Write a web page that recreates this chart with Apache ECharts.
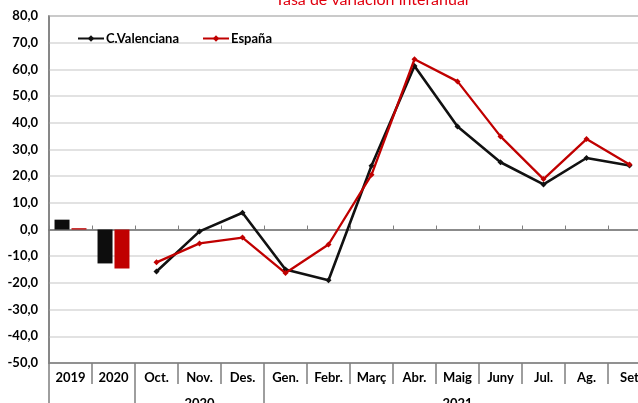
<!DOCTYPE html>
<html><head><meta charset="utf-8">
<script src="https://cdn.jsdelivr.net/npm/echarts@6/dist/echarts.min.js"></script>
<style>html,body{margin:0;padding:0;background:#fff}#c{width:638px;height:403px}</style>
</head><body><div id="c"></div>
<script>
var categories = ['2019','2020','Oct.','Nov.','Des.','Gen.','Febr.','Març','Abr.','Maig','Juny','Jul.','Ag.','Set'];
var groupLabels = ['','','','2020','','','','','','2021','','','',''];
var cvBars = [3.7, -12.7, null, null, null, null, null, null, null, null, null, null, null, null];
var esBars = [0.5, -14.6, null, null, null, null, null, null, null, null, null, null, null, null];
var cvLine = [null, null, -15.7, -0.7, 6.3, -15.0, -19.0, 23.9, 61.3, 38.6, 25.2, 16.9, 26.8, 24.0];
var esLine = [null, null, -12.3, -5.2, -3.0, -16.3, -5.6, 20.5, 63.8, 55.5, 34.9, 18.9, 33.9, 24.4];
var yTicks = {min:-50, max:80, interval:10};

var font = 'Lato, "Open Sans", sans-serif';
var chart = echarts.init(document.getElementById('c'));
chart.setOption({
  animation: false,
  title: {text: 'Tasa de variación interanual', left: 367, textAlign: 'center', top: -13,
    textStyle: {color: '#e0000f', fontSize: 16, fontWeight: 'normal', fontFamily: font}},
  legend: {data: ['C.Valenciana','España'], left: 72, top: 27, itemWidth: 26, itemHeight: 8, itemGap: 23,
    textStyle: {fontFamily: font, fontWeight: 'bold', fontSize: 13, color: '#000', padding:[0,0,0,-3]}},
  grid: {left: 49, top: 16, right: -13, bottom: 40, containLabel: false, outerBoundsMode: 'none',
    show: true, borderColor: '#7f7f7f', borderWidth: 1.5, backgroundColor: 'transparent'},
  xAxis: [
    {type: 'category', data: categories, position: 'bottom',
      axisLine: {onZero: false, lineStyle: {color: '#7f7f7f', width: 1.5}},
      axisTick: {show: true, length: 21, interval: 0, lineStyle: {color: '#7f7f7f', width: 1.5}},
      axisLabel: {interval: 0, margin: 8, color: '#000', fontWeight: 'bold', fontSize: 13, fontFamily: font}},
    {type: 'category', data: categories, position: 'top',
      axisLine: {onZero: true, lineStyle: {color: '#6f6f6f', width: 1.5}},
      axisTick: {show: true, length: 4, interval: 0, lineStyle: {color: '#7f7f7f'}},
      axisLabel: {show: false}},
    {type: 'category', data: groupLabels, position: 'bottom', offset: 21,
      axisLine: {show: false, onZero: false},
      axisTick: {show: true, length: 21, lineStyle: {color: '#7f7f7f', width: 1.5},
        interval: function (i) { return i === 0 || i === 2 || i === 5; }},
      axisLabel: {interval: 0, margin: 13, color: '#000', fontWeight: 'bold', fontSize: 13, fontFamily: font}}
  ],
  yAxis: {type: 'value', min: yTicks.min, max: yTicks.max, interval: yTicks.interval,
    axisLine: {show: true, lineStyle: {color: '#7f7f7f', width: 1.5}},
    axisTick: {show: false},
    splitLine: {lineStyle: {color: '#d9d9d9', width: 1.5}},
    axisLabel: {margin: 11, color: '#000', fontWeight: 'bold', fontSize: 13, fontFamily: font,
      formatter: function (v) { return v.toFixed(1).replace('.', ','); }}},
  series: [
    {name: 'C.Valenciana', type: 'line', data: cvLine, xAxisIndex: 0, symbol: 'diamond', symbolSize: 6,
      itemStyle: {color: '#111'}, lineStyle: {color: '#111', width: 2.6}, z: 4},
    {name: 'España', type: 'line', data: esLine, xAxisIndex: 0, symbol: 'diamond', symbolSize: 6,
      itemStyle: {color: '#c00000'}, lineStyle: {color: '#c00000', width: 2.3}, z: 5},
    {name: 'CV anual', type: 'bar', data: cvBars, xAxisIndex: 0, barWidth: 15, barGap: '13%',
      itemStyle: {color: '#0d0d0d'}},
    {name: 'ES anual', type: 'bar', data: esBars, xAxisIndex: 0, barWidth: 15, barGap: '13%',
      itemStyle: {color: '#c00000'}}
  ]
});
</script></body></html>
